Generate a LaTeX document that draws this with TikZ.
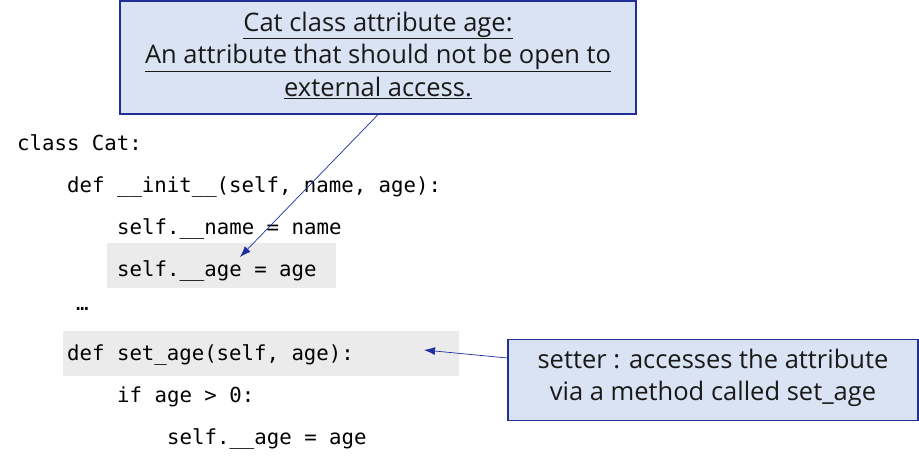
\documentclass[tikz,border=0pt]{standalone}
\usepackage{fontspec}
\setmainfont{Open Sans}
\setmonofont{DejaVu Sans Mono}
\usetikzlibrary{arrows.meta}
\definecolor{boxfill}{RGB}{218,227,243}
\definecolor{boxline}{RGB}{32,48,150}
\definecolor{arrowc}{RGB}{30,45,160}
\definecolor{hl}{RGB}{235,235,235}
\tikzset{
  note/.style={draw=boxline, fill=boxfill, line width=1.3pt, inner sep=0pt},
  notetext/.style={align=center, font=\fontsize{25.5}{32.5}\selectfont, text=black!90},
  code/.style={anchor=base west, inner sep=0pt, font=\fontsize{20.7}{24}\selectfont\ttfamily},
  pointer/.style={draw=arrowc, line width=0.7pt, -{Latex[length=11pt,width=8pt]}},
}
\begin{document}
\begin{tikzpicture}[x=1pt,y=-1pt]
\useasboundingbox (0,0) rectangle (919,466);
% highlight boxes
\fill[hl] (107,243) rectangle (336,288);
\fill[hl] (63,331) rectangle (459,376);
% code
\node[code] (l1) at (17,150) {class Cat:};
\node[code] (l2) at (67,192) {def \_\_init\_\_(self, name, age):};
\node[code] (l3) at (117,234) {self.\_\_name = name};
\node[code] (l4) at (117,276) {self.\_\_age = age};
\node[code] (l5) at (76,310) {…};
\node[code] (l6) at (67,360) {def set\_age(self, age):};
\node[code] (l7) at (117,402) {if age > 0:};
\node[code] (l8) at (167,444) {self.\_\_age = age};
% notes
\node[note, minimum width=516, minimum height=113] (n1) at (378,57.5) {};
\node[notetext] (t1) at (378,55) {\underline{Cat class attribute age:}\\\underline{An attribute that should not be open to}\\\underline{external access.}};
\node[note, minimum width=410, minimum height=81] (n2) at (713,380) {};
\node[notetext] (t2) at (713,378) {setter : accesses the attribute\\via a method called set\_age};
% pointers
\coordinate (p1) at (240,257);
\coordinate (p2) at (424,350);
\draw[pointer] (n1.south) -- (p1);
\draw[pointer] ([yshift=22pt]n2.west) -- (p2);
\end{tikzpicture}
\end{document}
